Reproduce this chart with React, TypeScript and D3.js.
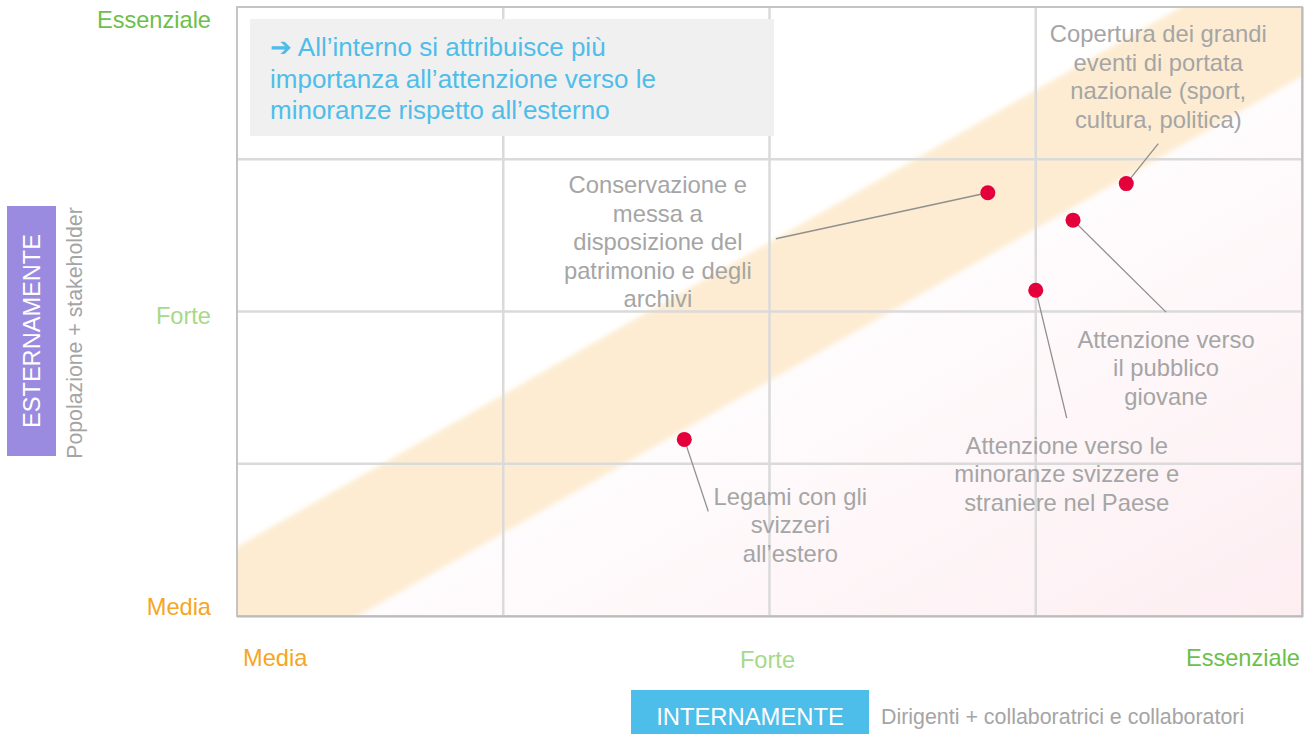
import * as d3 from "d3";
import { useMemo } from "react";

// levels on both axes
const levels = ["Media", "Forte", "Essenziale"];
const levelColors = ["#f5a623", "#a6d98a", "#6cbf4a"];

// activities: internal rating (x) and external rating (y), 0 = Media .. 2 = Essenziale
const activities = [
  "Conservazione",
  "Copertura",
  "Giovane",
  "Minoranze",
  "Legami",
];
const internalScores = [1.41, 1.67, 1.57, 1.5, 0.84];
const externalScores = [1.39, 1.42, 1.3, 1.07, 0.58];
const activityLabels = [
  ["Conservazione e", "messa a", "disposizione del", "patrimonio e degli", "archivi"],
  ["Copertura dei grandi", "eventi di portata", "nazionale (sport,", "cultura, politica)"],
  ["Attenzione verso", "il pubblico", "giovane"],
  ["Attenzione verso le", "minoranze svizzere e", "straniere nel Paese"],
  ["Legami con gli", "svizzeri", "all\u2019estero"],
];

const noteLines = [
  "\u2794 All\u2019interno si attribuisce più",
  "importanza all\u2019attenzione verso le",
  "minoranze rispetto all\u2019esterno",
];

// label placement, pixel offsets from the dot
const labelLayout = [
  { lx: -212, ly: 46, tx: -330, ty: -8 },
  { lx: 32, ly: -40, tx: 32, ty: -150 },
  { lx: 93, ly: 92, tx: 93, ty: 119 },
  { lx: 31, ly: 128, tx: 31, ty: 155 },
  { lx: 24, ly: 72, tx: 106, ty: 57 },
];

const W = 1313;
const H = 734;
const m = { left: 237, top: 7, right: 1302, bottom: 616 };
const font = "'Liberation Sans', Arial, sans-serif";
const bandHalf = 0.227;

const App = () => {
  const x = useMemo(() => d3.scaleLinear().domain([0, 2]).range([m.left, m.right]), []);
  const y = useMemo(() => d3.scaleLinear().domain([0, 2]).range([m.bottom, m.top]), []);

  const band = d3.line<[number, number]>()
    .x((d) => x(d[0]))
    .y((d) => y(d[1]))([
      [-0.2, -0.2 - bandHalf],
      [2.2, 2.2 - bandHalf],
      [2.2, 2.2 + bandHalf],
      [-0.2, -0.2 + bandHalf],
    ]) + "Z";

  const gridX = d3.range(0.5, 2, 0.5);
  const lineH = 28.5;

  return (
    <svg width={W} height={H} style={{ position: "absolute", left: 0, top: 0 }} fontFamily={font}>
      <defs>
        <clipPath id="plot">
          <rect x={m.left} y={m.top} width={m.right - m.left} height={m.bottom - m.top} />
        </clipPath>
        <linearGradient id="bg" x1="0" y1="0" x2="1" y2="1">
          <stop offset="0.45" stopColor="#ffffff" />
          <stop offset="1" stopColor="#fdeef2" />
        </linearGradient>
        <filter id="soft" x="-10%" y="-10%" width="120%" height="120%">
          <feGaussianBlur stdDeviation="2.5" />
        </filter>
      </defs>

      {/* plot background */}
      <rect x={m.left} y={m.top} width={m.right - m.left} height={m.bottom - m.top} fill="url(#bg)" />
      <g clipPath="url(#plot)">
        <path d={band} fill="#fdecd1" filter="url(#soft)" />
      </g>

      {/* grid */}
      {gridX.map((v) => (
        <line key={"gx" + v} x1={x(v)} x2={x(v)} y1={m.top} y2={m.bottom} stroke="#dadada" strokeWidth={2.5} />
      ))}
      {gridX.map((v) => (
        <line key={"gy" + v} x1={m.left} x2={m.right} y1={y(v)} y2={y(v)} stroke="#dadada" strokeWidth={2.5} />
      ))}
      <rect x={m.left} y={m.top} width={m.right - m.left} height={m.bottom - m.top} fill="none" stroke="#c4c4c4" strokeWidth={2} />
      <line x1={m.left} x2={m.right + 1} y1={m.bottom + 1} y2={m.bottom + 1} stroke="#b5b5b5" strokeWidth={1} />
      <line x1={m.right + 1} x2={m.right + 1} y1={m.top} y2={m.bottom + 1} stroke="#b5b5b5" strokeWidth={1} />

      {/* note box */}
      <rect x={250} y={19} width={524} height={117} fill="#f0f0f0" />
      {noteLines.map((t, i) => (
        <text key={t} x={270} y={47 + i * 31.5} dominantBaseline="central" fontSize={26} fill="#4fbde9">
          {t}
        </text>
      ))}

      {/* y axis labels */}
      {levels.map((l, i) => (
        <text
          key={"yl" + l}
          x={211}
          y={i === 0 ? y(i) - 9 : i === 2 ? y(i) + 13 : y(i) + 4}
          textAnchor="end"
          dominantBaseline="central"
          fontSize={23.6}
          fill={levelColors[i]}
        >
          {l}
        </text>
      ))}
      {/* x axis labels */}
      {levels.map((l, i) => (
        <text
          key={"xl" + l}
          x={i === 0 ? x(i) + 6 : i === 2 ? x(i) - 2 : x(i) - 2}
          y={i === 1 ? 660 : 658}
          textAnchor={i === 0 ? "start" : i === 2 ? "end" : "middle"}
          dominantBaseline="central"
          fontSize={23.6}
          fill={levelColors[i]}
        >
          {l}
        </text>
      ))}

      {/* leaders, dots, labels */}
      {activities.map((a, i) => {
        const cx = x(internalScores[i]);
        const cy = y(externalScores[i]);
        const L = labelLayout[i];
        return (
          <g key={a}>
            <line x1={cx} y1={cy} x2={cx + L.lx} y2={cy + L.ly} stroke="#8f8f8f" strokeWidth={1.3} />
            <circle cx={cx} cy={cy} r={7.5} fill="#e4003b" />
            {activityLabels[i].map((t, j) => (
              <text
                key={t}
                x={cx + L.tx}
                y={cy + L.ty + j * lineH}
                textAnchor="middle"
                dominantBaseline="central"
                fontSize={23.8}
                fill="#a5a5a5"
              >
                {t}
              </text>
            ))}
          </g>
        );
      })}

      {/* external axis title */}
      <rect x={7} y={206} width={49} height={250} fill="#9b8be0" />
      <text
        transform="translate(32,331) rotate(-90)"
        textAnchor="middle"
        dominantBaseline="central"
        fontSize={23.6}
        fill="#ffffff"
      >
        ESTERNAMENTE
      </text>
      <text
        transform="translate(75,333) rotate(-90)"
        textAnchor="middle"
        dominantBaseline="central"
        fontSize={21.3}
        fill="#a5a5a5"
      >
        Popolazione + stakeholder
      </text>

      {/* internal axis title */}
      <rect x={631} y={690} width={238} height={44} fill="#4dbde9" />
      <text x={750} y={716} textAnchor="middle" dominantBaseline="central" fontSize={23.8} fill="#ffffff">
        INTERNAMENTE
      </text>
      <text x={881} y={717} dominantBaseline="central" fontSize={21.4} fill="#a5a5a5">
        Dirigenti + collaboratrici e collaboratori
      </text>
    </svg>
  );
};

export default App;
